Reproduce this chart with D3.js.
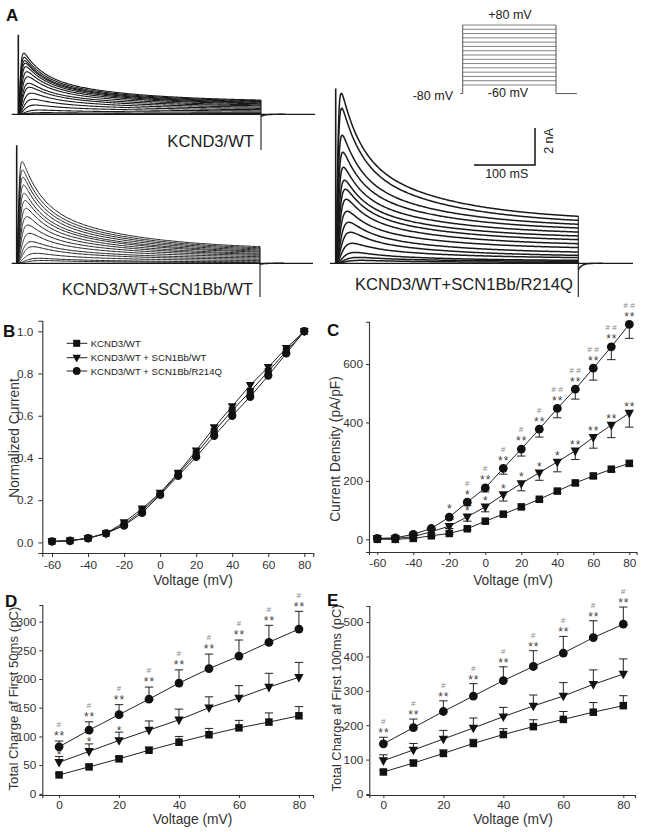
<!DOCTYPE html>
<html><head><meta charset="utf-8">
<script src="https://cdn.jsdelivr.net/npm/d3@7"></script>
<style>
body{margin:0;background:#fff}
svg{display:block}
text{font-family:"Liberation Sans",Arial,Helvetica,sans-serif}
</style>
</head><body>
<svg id="fig" width="645" height="832"></svg>
<script>
// ---------------- DATA ----------------
const voltsIV = [-60,-50,-40,-30,-20,-10,0,10,20,30,40,50,60,70,80];
const voltsQ  = [0,10,20,30,40,50,60,70,80];
const seriesNames = ["KCND3/WT","KCND3/WT + SCN1Bb/WT","KCND3/WT + SCN1Bb/R214Q"];

// Panel A: current traces (nA), one value per voltage step
const peakWT = [0.02,0.09,0.23,0.50,0.81,1.14,1.46,1.68,2.03,2.30,2.57,2.76,2.90,3.08,3.30];
const endWT  = [0.02,0.05,0.11,0.18,0.25,0.32,0.39,0.46,0.51,0.57,0.61,0.65,0.69,0.73,0.77];
const peakBW = [0.15,0.27,0.54,0.90,1.17,1.62,2.07,2.52,2.97,3.39,3.78,4.23,4.65,5.04,5.50];
const endBW  = [0.04,0.08,0.15,0.22,0.29,0.36,0.43,0.49,0.54,0.61,0.66,0.72,0.78,0.84,0.90];
const peakBR = [0.16,0.32,0.59,1.08,1.68,2.22,2.81,3.46,4.00,4.49,5.19,6.00,6.92,8.38,9.19];
const endBR  = [0.05,0.11,0.16,0.31,0.43,0.61,0.85,1.06,1.28,1.48,1.69,1.91,2.11,2.32,2.54];
const tauAct = [14,12,10,8,7,6,5,4.5,4,3.5,3,2.7,2.4,2.2,2]; // ms
const protoHold = -80;

// Panel B: normalized current
const normWT = [0.005,0.008,0.02,0.043,0.085,0.15,0.23,0.325,0.42,0.525,0.625,0.715,0.81,0.905,1.0];
const normBW = [0.005,0.008,0.02,0.043,0.095,0.16,0.235,0.33,0.435,0.545,0.645,0.745,0.83,0.92,1.0];
const normBR = [0.005,0.008,0.02,0.043,0.08,0.14,0.225,0.315,0.405,0.505,0.60,0.69,0.79,0.895,1.0];

// Panel C: current density (pA/pF), SEM
const densWT = [0,0,3,12,20,36,62,86,111,137,165,193,217,240,260];
const densBW = [3,3,9,26,45,77,111,153,191,228,265,303,349,391,432];
const densBR = [3,5,17,37,76,127,176,243,309,377,448,514,586,659,736];
const semDensWT = [0,0,1,2,3,4,5,5,6,6,7,8,8,9,10];
const semDensBW = [2,2,3,5,8,15,17,22,25,26,34,30,37,43,48];
const semDensBR = [2,2,4,6,8,12,14,20,24,27,32,34,41,44,48];
const starsC_BR = ["","","","","*","*","**","**","**","**","**","**","**","**","**"];
const hashC_BR  = ["","","","","","#","#","#","#","#","##","##","##","##","##"];
const starsC_BW = ["","","","","","*","*","*","*","*","*","**","**","**","**"];

// Panel D: total charge first 50 ms (pC)
const q50WT = [33,47,61,76,90,103,115,125,136];
const q50BW = [55,74,93,111,129,150,167,186,203];
const q50BR = [82,111,138,165,193,218,240,264,287];
const sem50WT = [2,3,4,5,10,11,13,16,16];
const sem50BW = [10,13,14.5,16,18.6,19,21.5,24,26];
const sem50BR = [10,14.5,17.4,21,23,25.5,28,29.6,31];
const starsD_BR = ["**","**","**","**","**","**","**","**","**"];
const hashD_BR  = ["#","#","#","#","#","#","#","#","#"];
const starsD_BW = ["*","*","*","","","","","",""];

// Panel E: total charge first 100 ms (pC)
const q100WT = [64,90,118,147,173,196,217,238,257];
const q100BW = [97,128,160,192,225,256,285,319,349];
const q100BR = [146,193,240,285,330,371,410,455,494];
const sem100WT = [5,8,10,12,17,20,23,28,29];
const sem100BW = [17,19,25,29,27,32,39,42,44];
const sem100BR = [19,25,31,36,40,46,48.5,49,50];
const starsE_BR = ["**","**","**","**","**","**","**","**","**"];
const hashE_BR  = ["#","#","#","#","#","#","#","#","#"];

const ticksIVx = [-60,-40,-20,0,20,40,60,80];
const ticksB = [0,0.2,0.4,0.6,0.8,1.0];
const ticksC = [0,200,400,600];
const ticksD = [0,50,100,150,200,250,300];
const ticksE = [0,100,200,300,400,500];
const ticksQx = [0,20,40,60,80];

// ---------------- DRAW ----------------
const svg = d3.select("#fig");
const INK = "#1a1a1a", AX = "#333";

// ---- Panel A traces ----
function sweep(P, E, tauA) {
  const fast = 0.55, tf = 30, ts = 150, T = 400;
  const d = t => fast*Math.exp(-t/tf) + (1-fast)*Math.exp(-t/ts);
  const m = t => Math.pow(1 - Math.exp(-t/tauA), 3);
  const times = d3.range(0, 20, 0.25).concat(d3.range(20, 400.01, 2));
  let Pp = P, S = E;
  for (let k = 0; k < 8; k++) {
    const dT = d(T);
    S = Math.min(Pp, (E - Pp*dT)/(1-dT));
    const mx = d3.max(times, t => m(t)*(S + (Pp-S)*d(t)));
    Pp *= P/mx;
  }
  return times.map(t => [t, m(t)*(S + (Pp-S)*d(t))]);
}

const tracePanels = [
  {peaks: peakWT, ends: endWT, x0: 18.3, x1: 261, y0: 114.3, left: 11.7, right: 315,
   art: 4.3, neg: -1.93, tail: -0.12, sw: 1.1, label: "KCND3/WT", lx: 254, ly: 147},
  {peaks: peakBW, ends: endBW, x0: 16.7, x1: 260, y0: 263.3, left: 11.7, right: 313,
   art: 6.38, neg: -1.82, tail: -0.06, sw: 1.0, label: "KCND3/WT+SCN1Bb/WT", lx: 253, ly: 295},
  {peaks: peakBR, ends: endBR, x0: 335.7, x1: 578.3, y0: 263.3, left: 330, right: 633,
   art: 9.45, neg: -1.82, tail: -0.35, sw: 1.5, label: "KCND3/WT+SCN1Bb/R214Q", lx: 573, ly: 290}
];

tracePanels.forEach(p => {
  const g = svg.append("g");
  const tx = d3.scaleLinear().domain([0, 400]).range([p.x0, p.x1]);
  const ty = d3.scaleLinear().domain([0, 1]).range([p.y0, p.y0 - 18.5]);
  const line = d3.line().x(d => tx(d[0])).y(d => ty(d[1]));
  g.append("line").attr("x1", p.left).attr("x2", p.right).attr("y1", ty(0)).attr("y2", ty(0))
    .attr("stroke", INK).attr("stroke-width", 1.3);
  voltsIV.forEach((v, i) => {
    g.append("path").attr("d", line(sweep(p.peaks[i], p.ends[i], tauAct[i])))
      .attr("fill", "none").attr("stroke", INK).attr("stroke-width", p.sw);
  });
  g.append("line").attr("x1", tx(0)).attr("x2", tx(0)).attr("y1", ty(0)).attr("y2", ty(p.art))
    .attr("stroke", INK).attr("stroke-width", 1.6);
  g.append("line").attr("x1", tx(400)).attr("x2", tx(400)).attr("y1", ty(d3.max(p.ends))).attr("y2", ty(p.neg))
    .attr("stroke", INK).attr("stroke-width", 1.1);
  const tail = d3.range(400, 440, 0.5).map(t => [t, p.tail*Math.exp(-(t-400)/6)]);
  g.append("path").attr("d", line(tail)).attr("fill", "none").attr("stroke", INK).attr("stroke-width", 1.4);
  g.append("text").attr("x", p.lx).attr("y", p.ly).attr("text-anchor", "end")
    .attr("font-size", 16.6).attr("fill", "#222").text(p.label);
});

// voltage protocol inset
(function(){
  const g = svg.append("g");
  const pv = d3.scaleLinear().domain([-60, 80]).range([85, 25]);
  const pt = d3.scaleLinear().domain([0, 400]).range([462.7, 556]);
  voltsIV.forEach(v => {
    g.append("line").attr("x1", pt(0)).attr("x2", pt(400)).attr("y1", pv(v)).attr("y2", pv(v))
      .attr("stroke", "#777").attr("stroke-width", 0.9);
  });
  g.append("path").attr("d", `M${pt(-10)},${pv(protoHold)}H${pt(0)}V${pv(80)}M${pt(400)},${pv(80)}V${pv(protoHold)}H${pt(490)}`)
    .attr("fill", "none").attr("stroke", "#555").attr("stroke-width", 1);
  g.append("text").attr("x", 510).attr("y", 19).attr("text-anchor", "middle").attr("font-size", 12.5).attr("fill", "#222").text("+80 mV");
  g.append("text").attr("x", 453).attr("y", 100).attr("text-anchor", "end").attr("font-size", 12.5).attr("fill", "#222").text("-80 mV");
  g.append("text").attr("x", 508).attr("y", 97).attr("text-anchor", "middle").attr("font-size", 12.5).attr("fill", "#222").text("-60 mV");
  // scale bar: 2 nA (37 px) x 100 ms (61 px)
  g.append("path").attr("d", "M474,165H535V128").attr("fill", "none").attr("stroke", "#111").attr("stroke-width", 1.5);
  g.append("text").attr("transform", "translate(553,141) rotate(-90)").attr("text-anchor", "middle")
    .attr("font-size", 12.5).attr("fill", "#222").text("2 nA");
  g.append("text").attr("x", 506.7).attr("y", 178).attr("text-anchor", "middle").attr("font-size", 12.5).attr("fill", "#222").text("100 mS");
})();

// ---- markers ----
function marker(g, type, x, y, s) {
  if (type === "sq") {
    g.append("rect").attr("x", x - s/2).attr("y", y - s/2).attr("width", s).attr("height", s).attr("fill", "#111");
  } else if (type === "ci") {
    g.append("circle").attr("cx", x).attr("cy", y).attr("r", s/2 + 0.4).attr("fill", "#111");
  } else {
    const w = s + 1.4, h = s + 0.6;
    g.append("path").attr("d", `M${x - w/2},${y - h*0.38}L${x + w/2},${y - h*0.38}L${x},${y + h*0.62}Z`).attr("fill", "#111");
  }
}

function axes(g, x, y, xt, yt, yfmt, pad, tickLen, xl, xlPos, yl, ylPos, ylSize) {
  const xa = g.append("g").attr("transform", `translate(0,${y.range()[0]})`)
    .call(d3.axisBottom(x).tickValues(xt).tickSizeOuter(0).tickSize(tickLen).tickPadding(pad[0]).tickFormat(d => String(d)));
  const ya = g.append("g").attr("transform", `translate(${x.range()[0]},0)`)
    .call(d3.axisLeft(y).tickValues(yt).tickSizeOuter(0).tickSize(tickLen).tickPadding(pad[1]).tickFormat(yfmt));
  [xa, ya].forEach(a => {
    a.select(".domain").attr("stroke", AX).attr("stroke-width", 1.1);
    a.selectAll(".tick line").attr("stroke", AX);
    a.selectAll(".tick text").attr("fill", "#333").attr("font-size", 11.8)
      .attr("font-family", '"Liberation Sans",Arial,sans-serif');
  });
  g.append("text").attr("x", xlPos[0]).attr("y", xlPos[1]).attr("text-anchor", "middle")
    .attr("font-size", 13.8).attr("fill", "#333").text(xl);
  g.append("text").attr("transform", `translate(${ylPos[0]},${ylPos[1]}) rotate(-90)`)
    .attr("text-anchor", "middle").attr("dy", "0.35em").attr("font-size", ylSize).attr("fill", "#333").text(yl);
}

function series(g, x, y, xs, ys, type, s, err, dir) {
  g.append("path").attr("d", d3.line().x((d, i) => x(xs[i])).y(d => y(d))(ys))
    .attr("fill", "none").attr("stroke", "#222").attr("stroke-width", 1);
  if (err) {
    ys.forEach((v, i) => {
      const y1 = y(v), y2 = y(v + dir*err[i]);
      g.append("path").attr("d", `M${x(xs[i])},${y1}V${y2}M${x(xs[i]) - 4.2},${y2}H${x(xs[i]) + 4.2}`)
        .attr("fill", "none").attr("stroke", "#222").attr("stroke-width", 1);
    });
  }
  ys.forEach((v, i) => marker(g, type, x(xs[i]), y(v), s));
}

function annot(g, xpos, ypos, txt, kind) {
  if (!txt) return;
  if (kind === "star") {
    g.append("text").attr("x", xpos + 0.5).attr("y", ypos + 6.9).attr("text-anchor", "middle")
      .attr("font-size", 12).attr("letter-spacing", 1).attr("fill", "#444").text(txt);
  } else {
    g.append("text").attr("x", xpos + 1).attr("y", ypos + 2.9).attr("text-anchor", "middle")
      .attr("font-size", 8).attr("font-style", "italic").attr("letter-spacing", 2.5).attr("fill", "#888").text(txt);
  }
}

function panelLetter(t, x, y) {
  svg.append("text").attr("x", x).attr("y", y).attr("font-size", 17).attr("font-weight", "bold")
    .attr("fill", "#111").text(t);
}

// ---- Panel B ----
(function(){
  const g = svg.append("g");
  const x = d3.scaleLinear().domain([-65.4, 85]).range([42.3, 313.3]);
  const y = d3.scaleLinear().domain([-0.05, 1.05]).range([553, 320.7]);
  axes(g, x, y, ticksIVx, ticksB, d3.format(".1f"), [4, 5], 4, "Voltage (mV)", [193, 585], "Normalized Current", [14, 438], 13.8);
  series(g, x, y, voltsIV, normBR, "ci", 7.5);
  series(g, x, y, voltsIV, normBW, "tr", 7.5);
  series(g, x, y, voltsIV, normWT, "sq", 7);
  const types = ["sq", "tr", "ci"], rows = [343.3, 357.7, 371];
  seriesNames.forEach((n, i) => {
    g.append("line").attr("x1", 66.7).attr("x2", 87.3).attr("y1", rows[i]).attr("y2", rows[i]).attr("stroke", "#222");
    marker(g, types[i], 76.7, rows[i], 7);
    g.append("text").attr("x", 90.7).attr("y", rows[i] + 3.5).attr("font-size", 9.6).attr("fill", "#222").text(n);
  });
  panelLetter("B", 3, 336.5);
})();

// ---- Panel C ----
(function(){
  const g = svg.append("g");
  const x = d3.scaleLinear().domain([-64.6, 84]).range([369, 636.5]);
  const y = d3.scaleLinear().domain([-43.5, 745]).range([552, 321.7]);
  axes(g, x, y, ticksIVx, ticksC, d => String(d), [4, 3], 3, "Voltage (mV)", [513, 585], "Current Density (pA/pF)", [335, 449], 13.8);
  series(g, x, y, voltsIV, densWT, "sq", 7.5, semDensWT, -1);
  series(g, x, y, voltsIV, densBW, "tr", 8, semDensBW, -1);
  series(g, x, y, voltsIV, densBR, "ci", 8, semDensBR, -1);
  voltsIV.forEach((v, i) => {
    annot(g, x(v), y(densBR[i]) - 10.5, starsC_BR[i], "star");
    annot(g, x(v), y(densBR[i]) - 19.5, hashC_BR[i], "hash");
    annot(g, x(v), y(densBW[i]) - 9, starsC_BW[i], "star");
  });
  panelLetter("C", 327, 335.5);
})();

// ---- Panel D ----
(function(){
  const g = svg.append("g");
  const x = d3.scaleLinear().domain([-5.6, 84.7]).range([42.3, 313]);
  const y = d3.scaleLinear().domain([-2, 329]).range([795, 605]);
  axes(g, x, y, ticksQx, ticksD, d => String(d), [2.5, 3], 3, "Voltage (mV)", [192.5, 824], "Total Charge af First 50ms (pC)", [13, 698.5], 13.2);
  series(g, x, y, voltsQ, q50WT, "sq", 7.5, sem50WT, 1);
  series(g, x, y, voltsQ, q50BW, "tr", 8, sem50BW, 1);
  series(g, x, y, voltsQ, q50BR, "ci", 8, sem50BR, 1);
  voltsQ.forEach((v, i) => {
    const capR = y(q50BR[i] + sem50BR[i]);
    annot(g, x(v), capR - 7.5, starsD_BR[i], "star");
    annot(g, x(v), capR - 16.5, hashD_BR[i], "hash");
    annot(g, x(v), y(q50BW[i] + sem50BW[i]) - 4.5, starsD_BW[i], "star");
  });
  panelLetter("D", 5, 606.5);
})();

// ---- Panel E ----
(function(){
  const g = svg.append("g");
  const x = d3.scaleLinear().domain([-4.7, 83.9]).range([369.3, 635]);
  const y = d3.scaleLinear().domain([-3, 547]).range([795, 606]);
  axes(g, x, y, ticksQx, ticksE, d => String(d), [2.5, 3], 3, "Voltage (mV)", [513, 824], "Total Charge af First 100ms (pC)", [336, 698], 12.9);
  series(g, x, y, voltsQ, q100WT, "sq", 7.5, sem100WT, 1);
  series(g, x, y, voltsQ, q100BW, "tr", 8, sem100BW, 1);
  series(g, x, y, voltsQ, q100BR, "ci", 8, sem100BR, 1);
  voltsQ.forEach((v, i) => {
    const capR = y(q100BR[i] + sem100BR[i]);
    annot(g, x(v), capR - 7, starsE_BR[i], "star");
    annot(g, x(v), capR - 16, hashE_BR[i], "hash");
  });
  panelLetter("E", 327, 605.5);
})();

panelLetter("A", 6, 21);
</script>
</body></html>
